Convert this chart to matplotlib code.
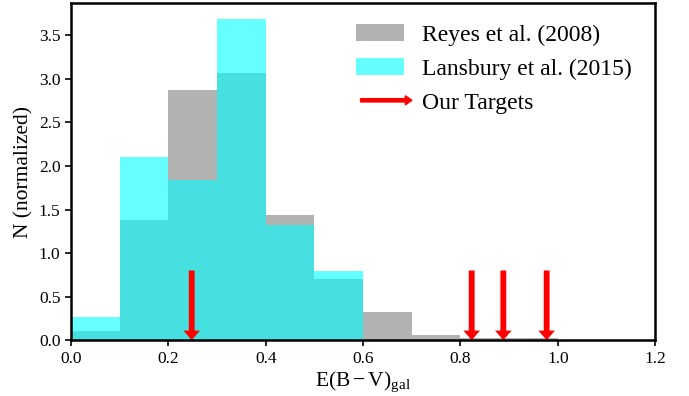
import numpy as np
import matplotlib
matplotlib.use("Agg")
import matplotlib.pyplot as plt
import matplotlib.patches as mpatches
from matplotlib.legend_handler import HandlerPatch

plt.rcParams["font.family"] = ["Liberation Serif", "DejaVu Serif"]
plt.rcParams["mathtext.fontset"] = "custom"
plt.rcParams["mathtext.rm"] = "Liberation Serif"
plt.rcParams["mathtext.it"] = "Liberation Serif:italic"

# histogram values (normalized), bins of width 0.1 from 0.0 to 1.2
bin_left = np.round(np.arange(0.0, 1.2, 0.1), 2)
reyes = [0.11, 1.38, 2.87, 3.07, 1.44, 0.70, 0.32, 0.06, 0.02, 0.02, 0.0, 0.0]
lansbury = [0.27, 2.10, 1.84, 3.69, 1.32, 0.79, 0.0, 0.0, 0.0, 0.0, 0.0, 0.0]
targets = [0.248, 0.823, 0.888, 0.977]
arrow_top = 0.8

fig = plt.figure(figsize=(6.89, 3.96), dpi=100)
ax = fig.add_axes([0.103, 0.141, 0.848, 0.851])

ax.bar(bin_left, reyes, width=0.1, align="edge", color="gray", alpha=0.6,
       linewidth=0, label="Reyes et al. (2008)")
ax.bar(bin_left, lansbury, width=0.1, align="edge", color="cyan", alpha=0.6,
       linewidth=0, label="Lansbury et al. (2015)")

for x in targets:
    ax.arrow(x, arrow_top, 0, -arrow_top, width=0.012, head_width=0.034,
             head_length=0.11, length_includes_head=True, color="red", lw=0)

arrow_handle = mpatches.FancyArrow(0, 0, 1, 0, color="red")


def make_legend_arrow(legend, orig_handle, xdescent, ydescent, width, height, fontsize):
    return mpatches.FancyArrow(3, 0.5 * height, width + 3, 0, length_includes_head=True,
                               width=0.2 * height, head_width=0.55 * height,
                               head_length=0.4 * height, color="red", lw=0)


h, l = ax.get_legend_handles_labels()
h.append(arrow_handle)
l.append("Our Targets")
ax.legend(h, l, loc="upper right", bbox_to_anchor=(0.997, 1.0), frameon=False,
          fontsize=17, handlelength=2.0, handletextpad=0.8, labelspacing=0.52,
          handler_map={mpatches.FancyArrow: HandlerPatch(patch_func=make_legend_arrow)})

ax.set_xlim(0, 1.2)
ax.set_ylim(0, 3.87)
ax.set_xticks([0.0, 0.2, 0.4, 0.6, 0.8, 1.0, 1.2])
ax.set_yticks([0.0, 0.5, 1.0, 1.5, 2.0, 2.5, 3.0, 3.5])
ax.tick_params(direction="out", length=4, width=1.2, labelsize=12.5)
for s in ax.spines.values():
    s.set_linewidth(1.8)
ax.set_xlabel(r"$\mathrm{E(B-V)_{gal}}$", fontsize=15.5, labelpad=2)
ax.set_ylabel("N (normalized)", fontsize=15.5, labelpad=4)

fig.savefig("out.png", dpi=100)
